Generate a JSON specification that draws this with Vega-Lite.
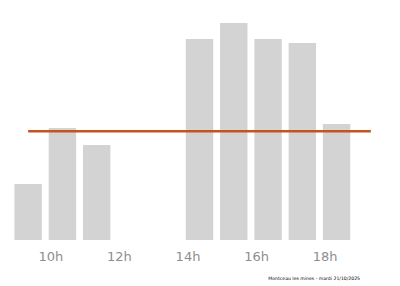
{
  "$schema": "https://vega.github.io/schema/vega-lite/v6.json",
  "width": 377,
  "height": 240,
  "autosize": "none",
  "padding": {"left": 11, "top": 0, "right": 12, "bottom": 46},
  "background": "white",
  "config": {"view": {"stroke": null}},
  "title": {"text": "Montceau les mines - mardi 21/10/2025", "orient": "bottom", "anchor": "end", "dx": -28, "offset": 13, "fontSize": 4.6, "fontWeight": "normal", "color": "#000000", "font": "DejaVu Sans"},
  "data": {"values": [
    {"heure": "9h", "valeur": 56},
    {"heure": "10h", "valeur": 112},
    {"heure": "11h", "valeur": 95},
    {"heure": "12h", "valeur": 0},
    {"heure": "13h", "valeur": 0},
    {"heure": "14h", "valeur": 201},
    {"heure": "15h", "valeur": 217},
    {"heure": "16h", "valeur": 201},
    {"heure": "17h", "valeur": 197},
    {"heure": "18h", "valeur": 116},
    {"heure": "19h", "valeur": 0}
  ]},
  "transform": [{"joinaggregate": [{"op": "mean", "field": "valeur", "as": "moyenne"}]}],
  "encoding": {
    "x": {"field": "heure", "type": "ordinal", "sort": null,
      "scale": {"paddingInner": 0.2, "paddingOuter": 0.1},
      "axis": {"title": null, "domain": false, "ticks": false, "labelAngle": 0, "labelPadding": 10, "labelFontSize": 13, "labelColor": "#8e8e8e", "labelFont": "DejaVu Sans", "labelOffset": -11.5,
        "labelExpr": "indexof(['10h','12h','14h','16h','18h'], datum.value) >= 0 ? datum.value : ''"}}
  },
  "layer": [
    {"mark": {"type": "bar", "color": "#d3d3d3"},
     "encoding": {"y": {"field": "valeur", "type": "quantitative", "scale": {"domain": [0, 240]}, "axis": null}}},
    {"mark": {"type": "line", "color": "#c4541c", "strokeWidth": 2.5},
     "encoding": {"y": {"field": "moyenne", "type": "quantitative"}}}
  ]
}
